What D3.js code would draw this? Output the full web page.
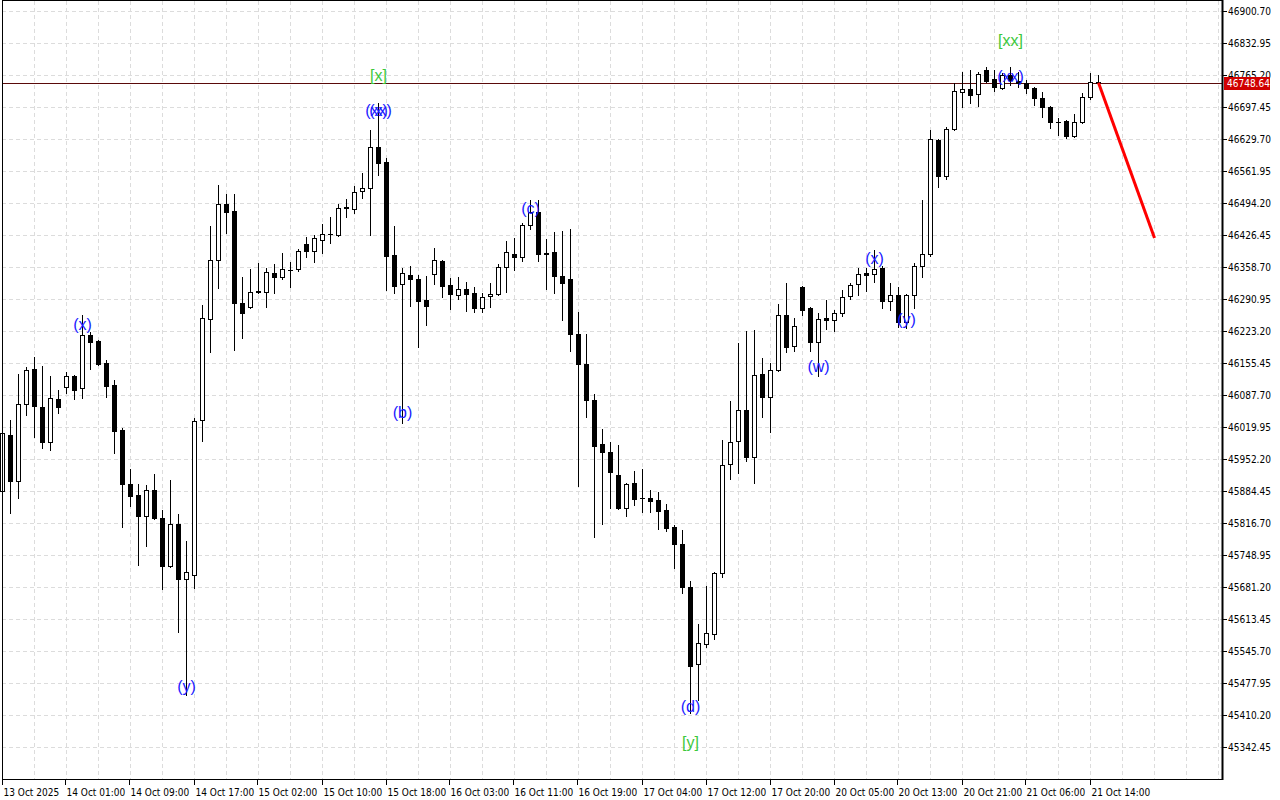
<!DOCTYPE html>
<html><head><meta charset="utf-8">
<script src="https://cdn.jsdelivr.net/npm/d3@7"></script>
<style>html,body{margin:0;padding:0;background:#fff;overflow:hidden}svg{display:block}</style>
</head><body>
<svg id="chart" width="1280" height="800"></svg>
<script>
// ---- data (hourly candles, bar index 0..137) ----
const opens = [45884,46003,45906,46069,46143,46062,45988,46079,46105,46128,46103,46215,46202,46155,46109,46014,45899,45876,45832,45887,45827,45726,45815,45698,45707,46035,46249,46374,46492,46477,46282,46274,46306,46306,46346,46338,46352,46355,46407,46393,46416,46429,46427,46486,46482,46520,46526,46613,46581,46384,46323,46342,46333,46289,46344,46372,46321,46300,46312,46304,46272,46297,46302,46359,46386,46380,46448,46475,46388,46391,46340,46333,46217,46153,46077,45984,45967,45918,45849,45901,45870,45870,45865,45844,45808,45772,45681,45518,45561,45582,45711,45942,45990,46056,45956,46132,46083,46141,46257,46191,46316,46272,46200,46251,46247,46261,46297,46323,46346,46344,46357,46287,46300,46242,46300,46361,46386,46628,46551,46651,46729,46736,46725,46776,46757,46738,46765,46753,46748,46738,46717,46698,46666,46668,46636,46666,46719,46750];
const highs = [46024,46035,46132,46147,46168,46149,46128,46098,46136,46130,46257,46221,46204,46162,46119,46018,45931,45899,45897,45920,45844,45908,45836,45779,46039,46278,46446,46532,46513,46513,46338,46355,46367,46357,46365,46388,46369,46397,46422,46427,46450,46465,46492,46503,46530,46558,46649,46706,46590,46446,46357,46361,46342,46340,46399,46374,46336,46338,46327,46316,46304,46325,46365,46414,46420,46452,46501,46501,46418,46433,46435,46439,46263,46217,46090,46016,45988,45982,45901,45927,45931,45887,45882,45857,45813,45802,45694,45603,45683,45713,45992,46075,46198,46223,46225,46166,46155,46280,46325,46251,46318,46274,46261,46289,46268,46310,46325,46357,46357,46395,46360,46325,46316,46302,46367,46501,46649,46630,46655,46748,46772,46776,46772,46782,46776,46769,46782,46772,46755,46740,46729,46700,46674,46670,46683,46727,46769,46765];
const lows = [45865,45838,45870,46045,45999,45976,45971,46050,46092,46079,46081,46143,46151,46083,45965,45808,45853,45728,45768,45825,45677,45724,45586,45453,45679,45990,46179,46314,46431,46183,46208,46272,46304,46274,46304,46333,46316,46350,46380,46369,46388,46410,46424,46465,46473,46505,46427,46554,46310,46304,46028,46276,46189,46236,46323,46295,46270,46291,46266,46263,46263,46274,46300,46306,46352,46372,46439,46372,46312,46304,46247,46181,45895,46041,45787,45815,45849,45847,45832,45855,45840,45840,45804,45800,45721,45669,45415,45442,45554,45571,45702,45910,45923,45948,45901,46041,46009,46138,46179,46181,46257,46181,46128,46227,46223,46255,46291,46300,46308,46327,46272,46268,46232,46230,46272,46338,46382,46528,46545,46649,46698,46706,46700,46750,46731,46736,46744,46740,46727,46702,46676,46653,46638,46632,46634,46664,46714,46744];
const closes = [46007,45906,46069,46141,46064,45988,46081,46062,46128,46098,46215,46200,46153,46107,46012,45899,45874,45832,45887,45827,45726,45815,45698,45713,46033,46251,46374,46492,46475,46282,46261,46306,46308,46348,46338,46355,46352,46393,46393,46420,46429,46429,46484,46484,46518,46526,46613,46579,46382,46319,46346,46333,46287,46276,46374,46319,46302,46312,46302,46272,46295,46302,46359,46391,46380,46448,46475,46386,46386,46340,46325,46217,46153,46077,45980,45967,45925,45849,45899,45868,45869,45863,45842,45806,45772,45681,45514,45563,45584,45711,45940,45988,46056,45956,46130,46083,46141,46257,46189,46234,46268,46200,46249,46247,46261,46295,46321,46344,46342,46355,46287,46300,46242,46300,46361,46386,46630,46551,46651,46731,46736,46723,46767,46753,46740,46765,46755,46748,46738,46717,46698,46666,46665,46636,46666,46719,46750,46748.64];

const xTickLabels = ["13 Oct 2025","14 Oct 01:00","14 Oct 09:00","14 Oct 17:00","15 Oct 02:00","15 Oct 10:00","15 Oct 18:00","16 Oct 03:00","16 Oct 11:00","16 Oct 19:00","17 Oct 04:00","17 Oct 12:00","17 Oct 20:00","20 Oct 05:00","20 Oct 13:00","20 Oct 21:00","21 Oct 06:00","21 Oct 14:00"];
const yTickLabels = ["46900.70","46832.95","46765.20","46697.45","46629.70","46561.95","46494.20","46426.45","46358.70","46290.95","46223.20","46155.45","46087.70","46019.95","45952.20","45884.45","45816.70","45748.95","45681.20","45613.45","45545.70","45477.95","45410.20","45342.45"];

const waveTexts  = ["(x)","(y)","(xx)","(x)","[x]","(b)","(c)","(d)","[y]","(w)","(x)","(y)","(xx)","[xx]"];
const waveBars   = [10,23,47,47,47,50,66,86,86,102,109,113,126,126];
const wavePrices = [46236,45470,46689,46689,46765,46050,46482,45429,45351,46147,46376,46247,46761,46839];

const lastPrice = 46748.64;
const forecastBars = [137,144];
const forecastPrices = [46748.64,46420];

// ---- layout ----
const W = 1280, H = 800;
const plotRight = 1222, plotBottom = 779;
const svg = d3.select("#chart");

const x = d3.scaleLinear().domain([0,152]).range([2.5, 2.5 + 8*152]);
const yTickVals = yTickLabels.map(Number);
const y = d3.scaleLinear().domain([yTickVals[yTickVals.length-1], yTickVals[0]]).range([747, 11]);
const py = v => Math.round(y(v));

const fontAxis = "'DejaVu Sans Condensed','Liberation Sans',Arial,sans-serif";

svg.append("rect").attr("width",W).attr("height",H).attr("fill","#fff");

// grid
const grid = svg.append("g").attr("stroke","#dcdcdc").attr("stroke-dasharray","4,3").attr("stroke-width",1);
d3.range(0,153,4).forEach(b=>{
  grid.append("line").attr("x1",x(b)).attr("x2",x(b)).attr("y1",1).attr("y2",plotBottom);
});
yTickVals.forEach(v=>{
  grid.append("line").attr("x1",2).attr("x2",plotRight).attr("y1",py(v)+0.5).attr("y2",py(v)+0.5);
});

// current price line
svg.append("line").attr("x1",2).attr("x2",plotRight).attr("y1",py(lastPrice)+0.5).attr("y2",py(lastPrice)+0.5)
  .attr("stroke","#5a0a0a").attr("stroke-width",1);

// candles
const data = opens.map((o,i)=>({i,o,h:highs[i],l:lows[i],c:closes[i]}));
const cg = svg.append("g");
data.forEach(d=>{
  const cx = x(d.i);
  cg.append("line").attr("x1",cx).attr("x2",cx).attr("y1",py(d.h)).attr("y2",py(d.l)+1)
    .attr("stroke","#000").attr("stroke-width",1);
  const top = py(Math.max(d.o,d.c)), bot = py(Math.min(d.o,d.c));
  const bull = d.c >= d.o;
  if (bot - top < 1) {
    cg.append("line").attr("x1",cx-2.5).attr("x2",cx+2.5).attr("y1",top+0.5).attr("y2",top+0.5)
      .attr("stroke","#000").attr("stroke-width",1);
  } else {
    cg.append("rect").attr("x",cx-2).attr("y",top+0.5).attr("width",4).attr("height",bot-top)
      .attr("fill",bull?"#fff":"#000").attr("stroke","#000").attr("stroke-width",1);
  }
});

// forecast line
svg.append("line").attr("x1",x(forecastBars[0])).attr("y1",y(forecastPrices[0]))
  .attr("x2",x(forecastBars[1])).attr("y2",y(forecastPrices[1]))
  .attr("stroke","#ff0000").attr("stroke-width",3);

// wave labels
waveTexts.forEach((t,k)=>{
  const green = t.startsWith("[");
  svg.append("text").attr("x",x(waveBars[k])).attr("y",y(wavePrices[k]))
    .attr("text-anchor","middle").attr("dominant-baseline","central")
    .attr("font-family","'Liberation Sans',Arial,sans-serif").attr("font-size",16)
    .attr("fill",green?"#3cc83c":"#1a1aff").text(t);
});

// frame
svg.append("line").attr("x1",2.5).attr("x2",2.5).attr("y1",0.5).attr("y2",plotBottom).attr("stroke","#000");
svg.append("line").attr("x1",2).attr("x2",plotRight).attr("y1",0.5).attr("y2",0.5).attr("stroke","#000");
svg.append("line").attr("x1",2).attr("x2",plotRight+1).attr("y1",plotBottom+0.5).attr("y2",plotBottom+0.5).attr("stroke","#000");
svg.append("line").attr("x1",plotRight+0.5).attr("x2",plotRight+0.5).attr("y1",0).attr("y2",plotBottom+1).attr("stroke","#000").attr("stroke-width",2);

// y axis ticks & labels
const ya = svg.append("g");
yTickVals.forEach((v,k)=>{
  ya.append("line").attr("x1",plotRight+1).attr("x2",plotRight+5).attr("y1",py(v)+0.5).attr("y2",py(v)+0.5).attr("stroke","#000");
  ya.append("text").attr("x",plotRight+6).attr("y",py(v)+0.5).attr("dominant-baseline","central")
    .attr("font-family",fontAxis).attr("font-size",10).attr("fill","#000").text(yTickLabels[k]);
});

// price label (drawn over the axis label, as in the reference)
const lpY = py(lastPrice);
svg.append("rect").attr("x",plotRight+2).attr("y",lpY-6).attr("width",46).attr("height",13).attr("fill","#d00000");
svg.append("text").attr("x",plotRight+5).attr("y",lpY+0.5).attr("dominant-baseline","central")
  .attr("font-family",fontAxis).attr("font-size",10).attr("fill","#fff").text(lastPrice.toFixed(2));

// x axis ticks & labels
const xa = svg.append("g");
xTickLabels.forEach((t,k)=>{
  const b = k*8;
  const xx = Math.round(x(b)) - 0.5;
  xa.append("line").attr("x1",xx).attr("x2",xx).attr("y1",plotBottom).attr("y2",plotBottom+6).attr("stroke","#000");
  xa.append("text").attr("x",xx+1).attr("y",plotBottom+13).attr("dominant-baseline","central")
    .attr("font-family",fontAxis).attr("font-size",10).attr("fill","#000").text(t);
});
</script>
</body></html>
